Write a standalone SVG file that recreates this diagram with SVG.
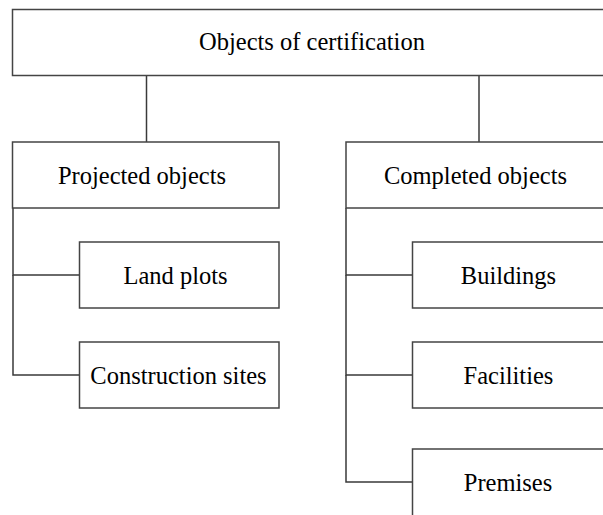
<svg xmlns="http://www.w3.org/2000/svg" width="603" height="515" viewBox="0 0 603 515">
<style>
.box{fill:#fff;stroke:#444;stroke-width:1.5}
.conn{fill:none;stroke:#3a3a3a;stroke-width:1.5}
text{font-family:"Liberation Serif","Times New Roman",serif;font-size:24.5px;fill:#000;text-anchor:middle}
</style>
<rect width="603" height="515" fill="#fff"/>
<g id="connectors">
<line class="conn" x1="146.5" y1="75" x2="146.5" y2="142"/>
<line class="conn" x1="479" y1="75" x2="479" y2="142"/>
<polyline class="conn" points="13,208 13,275 79.5,275"/>
<polyline class="conn" points="13,275 13,375 79.5,375"/>
<polyline class="conn" points="346,208 346,275 412.5,275"/>
<polyline class="conn" points="346,275 346,375 412.5,375"/>
<polyline class="conn" points="346,375 346,482 412.5,482"/>
</g>
<g id="root">
<rect class="box" x="12.5" y="9.5" width="620" height="66"/>
<text x="312" y="50">Objects of certification</text>
</g>
<g id="projected">
<rect class="box" x="12.5" y="142" width="266.5" height="66"/>
<text x="142" y="183.5">Projected objects</text>
</g>
<g id="completed">
<rect class="box" x="346" y="142" width="267" height="66"/>
<text x="475.5" y="183.5">Completed objects</text>
</g>
<g id="landplots">
<rect class="box" x="79.5" y="242" width="199.5" height="66"/>
<text x="175.5" y="283.5">Land plots</text>
</g>
<g id="construction">
<rect class="box" x="79.5" y="342" width="199.5" height="66"/>
<text x="178.5" y="383.5">Construction sites</text>
</g>
<g id="buildings">
<rect class="box" x="412.5" y="242" width="200" height="66"/>
<text x="508.5" y="283.5">Buildings</text>
</g>
<g id="facilities">
<rect class="box" x="412.5" y="342" width="200" height="66"/>
<text x="508.5" y="383.5">Facilities</text>
</g>
<g id="premises">
<rect class="box" x="412.5" y="449" width="200" height="80"/>
<text x="508" y="491">Premises</text>
</g>
</svg>
